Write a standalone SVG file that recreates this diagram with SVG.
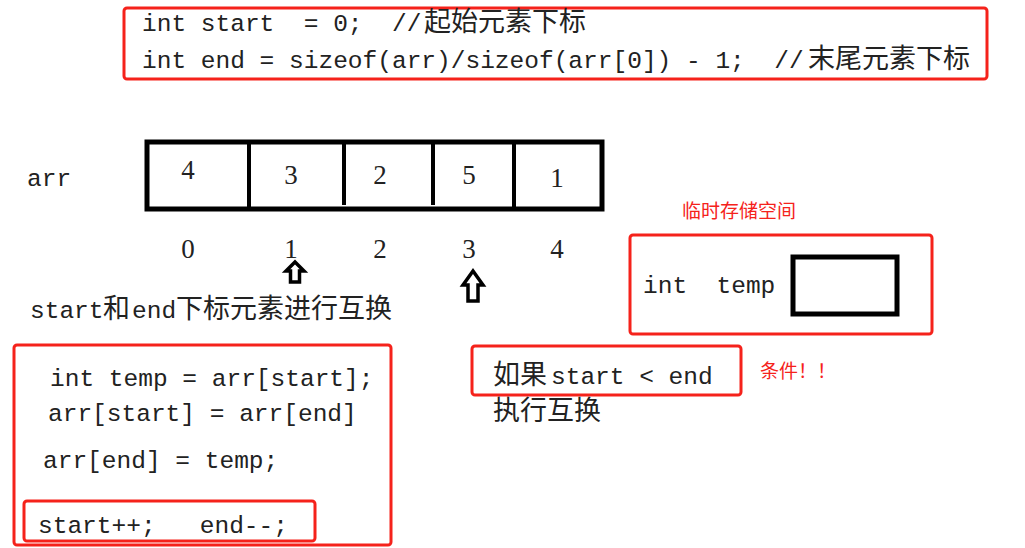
<svg xmlns="http://www.w3.org/2000/svg" width="1025" height="548" viewBox="0 0 1025 548">
<style>
.code{font-family:"Liberation Mono","Noto Sans CJK SC",monospace;font-size:24.5px;fill:#222;}
.cjk{font-family:"Noto Sans CJK SC",sans-serif;font-size:27px;fill:#222;}
.num{font-family:"Liberation Serif","Noto Sans CJK SC",serif;font-size:27px;fill:#222;text-anchor:middle;}
.red{fill:none;stroke:#f5221b;stroke-width:3;}
.note{font-family:"Noto Sans CJK SC",sans-serif;font-size:19px;fill:#f5221b;}
.blk{fill:none;stroke:#000;stroke-width:5;}
.arrow{fill:#fff;stroke:#000;stroke-width:3.5;stroke-linejoin:miter;}
</style>
<rect width="1025" height="548" fill="#fff"/>

<g id="init-code">
<rect class="red" x="124" y="8" width="863" height="71" rx="3"/>
<text class="code" x="142" y="31" xml:space="preserve">int start  = 0;  //<tspan class="cjk" x="424">起始元素下标</tspan></text>
<text class="code" x="142" y="68" xml:space="preserve">int end = sizeof(arr)/sizeof(arr[0]) - 1;  //<tspan class="cjk" x="808">末尾元素下标</tspan></text>
</g>

<g id="array">
<text class="code" x="27" y="186">arr</text>
<rect class="blk" x="147" y="142" width="455" height="67"/>
<line x1="249" y1="142" x2="249" y2="209" stroke="#000" stroke-width="4"/>
<line x1="344" y1="142" x2="344" y2="205" stroke="#000" stroke-width="4"/>
<line x1="433" y1="142" x2="433" y2="205" stroke="#000" stroke-width="4"/>
<line x1="514" y1="142" x2="514" y2="209" stroke="#000" stroke-width="4"/>
<text class="num" x="188" y="179">4</text>
<text class="num" x="291" y="184">3</text>
<text class="num" x="380" y="184">2</text>
<text class="num" x="469" y="184">5</text>
<text class="num" x="557" y="187">1</text>
<text class="num" x="188" y="258">0</text>
<text class="num" x="291" y="258">1</text>
<text class="num" x="380" y="258">2</text>
<text class="num" x="469" y="258">3</text>
<text class="num" x="557" y="258">4</text>
</g>

<g id="connectors">
<polygon class="arrow" points="295,262 304,271 299.5,271 299.5,282 290.5,282 290.5,271 286,271"/>
<polygon class="arrow" points="473,271 483,285 478,285 478,301 468,301 468,285 463,285"/>
</g>

<g id="swap-caption">
<text class="code" x="30" y="318">start<tspan class="cjk" x="103">和</tspan><tspan x="132">end</tspan><tspan class="cjk" x="176">下标元素进行互换</tspan></text>
</g>

<g id="temp-space">
<text class="note" x="682" y="218">临时存储空间</text>
<rect class="red" x="630" y="235" width="302" height="99" rx="3"/>
<text class="code" x="643" y="293" xml:space="preserve">int  temp</text>
<rect class="blk" x="793" y="257" width="104" height="57"/>
</g>

<g id="swap-code">
<rect class="red" x="14" y="345" width="377" height="200" rx="3"/>
<text class="code" x="50" y="386">int temp = arr[start];</text>
<text class="code" x="48" y="421">arr[start] = arr[end]</text>
<text class="code" x="43" y="468">arr[end] = temp;</text>
<rect class="red" x="24" y="501" width="291" height="40" rx="3"/>
<text class="code" x="38" y="533" xml:space="preserve">start++;   end--;</text>
</g>

<g id="condition">
<rect class="red" x="472" y="346" width="269" height="49" rx="3"/>
<text class="code" x="493" y="384"><tspan class="cjk">如果</tspan><tspan x="551">start &lt; end</tspan></text>
<text class="cjk" x="493" y="420">执行互换</text>
<text class="note" x="760" y="378">条件！！</text>
</g>
</svg>
